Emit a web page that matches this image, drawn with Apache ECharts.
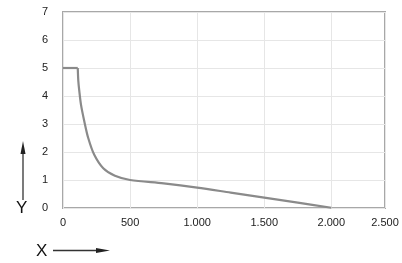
<!DOCTYPE html>
<html>
<head>
<meta charset="utf-8">
<script src="https://cdn.jsdelivr.net/npm/echarts@6/dist/echarts.min.js"></script>
<style>html,body{margin:0;padding:0;background:#fff;}#c{width:402px;height:263px;}</style>
</head>
<body>
<div id="c"></div>
<script>
var xValues = [0, 110, 114, 121, 134, 159, 188, 233, 300, 387, 500, 750, 1000, 1250, 1500, 1750, 2000];
var yValues = [5, 5, 4.55, 4.2, 3.69, 3.09, 2.5, 1.9, 1.42, 1.15, 1.0, 0.88, 0.73, 0.55, 0.37, 0.19, 0.01];
var xTickValues = [0, 500, 1000, 1500, 2000, 2400];
var xTickLabels = ["0", "500", "1.000", "1.500", "2.000", "2.500"];
var yTickLabels = ["0", "1", "2", "3", "4", "5", "6", "7"];

var data = xValues.map(function (x, i) { return [x, yValues[i]]; });
var chart = echarts.init(document.getElementById('c'));
var font = 'Liberation Sans, Arial, sans-serif';
var lineStyle = { color: '#8a8a8a', width: 2.2 };
chart.setOption({
  animation: false,
  grid: { left: 63, right: 17, top: 12, bottom: 55, show: true, borderColor: '#a8a8a8', borderWidth: 2, backgroundColor: 'transparent' },
  xAxis: {
    type: 'value', min: 0, max: 2400, interval: 500,
    axisLine: { show: false }, axisTick: { show: false },
    splitLine: { lineStyle: { color: '#e6e6e6', width: 1 } },
    axisLabel: {
      color: '#222', fontSize: 11, fontFamily: font, margin: 9,
      formatter: function (v) { var i = xTickValues.indexOf(v); return i >= 0 ? xTickLabels[i] : ''; }
    }
  },
  yAxis: {
    type: 'value', min: 0, max: 7, interval: 1,
    axisLine: { show: false }, axisTick: { show: false },
    splitLine: { lineStyle: { color: '#e6e6e6', width: 1 } },
    axisLabel: {
      color: '#222', fontSize: 11, fontFamily: font, margin: 15,
      formatter: function (v) { return yTickLabels[v]; }
    }
  },
  series: [
    { type: 'line', data: data.slice(0, 2), showSymbol: false, lineStyle: lineStyle },
    { type: 'line', data: data.slice(1), showSymbol: false, smooth: 0.3, lineStyle: lineStyle }
  ],
  graphic: [
    { type: 'line', shape: { x1: 23, y1: 200, x2: 23, y2: 150 }, style: { stroke: '#333', lineWidth: 1.3 } },
    { type: 'polygon', shape: { points: [[23, 141], [20.5, 154], [25.5, 154]] }, style: { fill: '#222' } },
    { type: 'text', left: 16, top: 200, style: { text: 'Y', fontSize: 17, fontFamily: font, fill: '#111' } },
    { type: 'text', left: 36, top: 243, style: { text: 'X', fontSize: 17, fontFamily: font, fill: '#111' } },
    { type: 'line', shape: { x1: 53, y1: 250.5, x2: 100, y2: 250.5 }, style: { stroke: '#333', lineWidth: 1.3 } },
    { type: 'polygon', shape: { points: [[110, 250.5], [96, 248], [96, 253]] }, style: { fill: '#222' } }
  ]
});
</script>
</body>
</html>
